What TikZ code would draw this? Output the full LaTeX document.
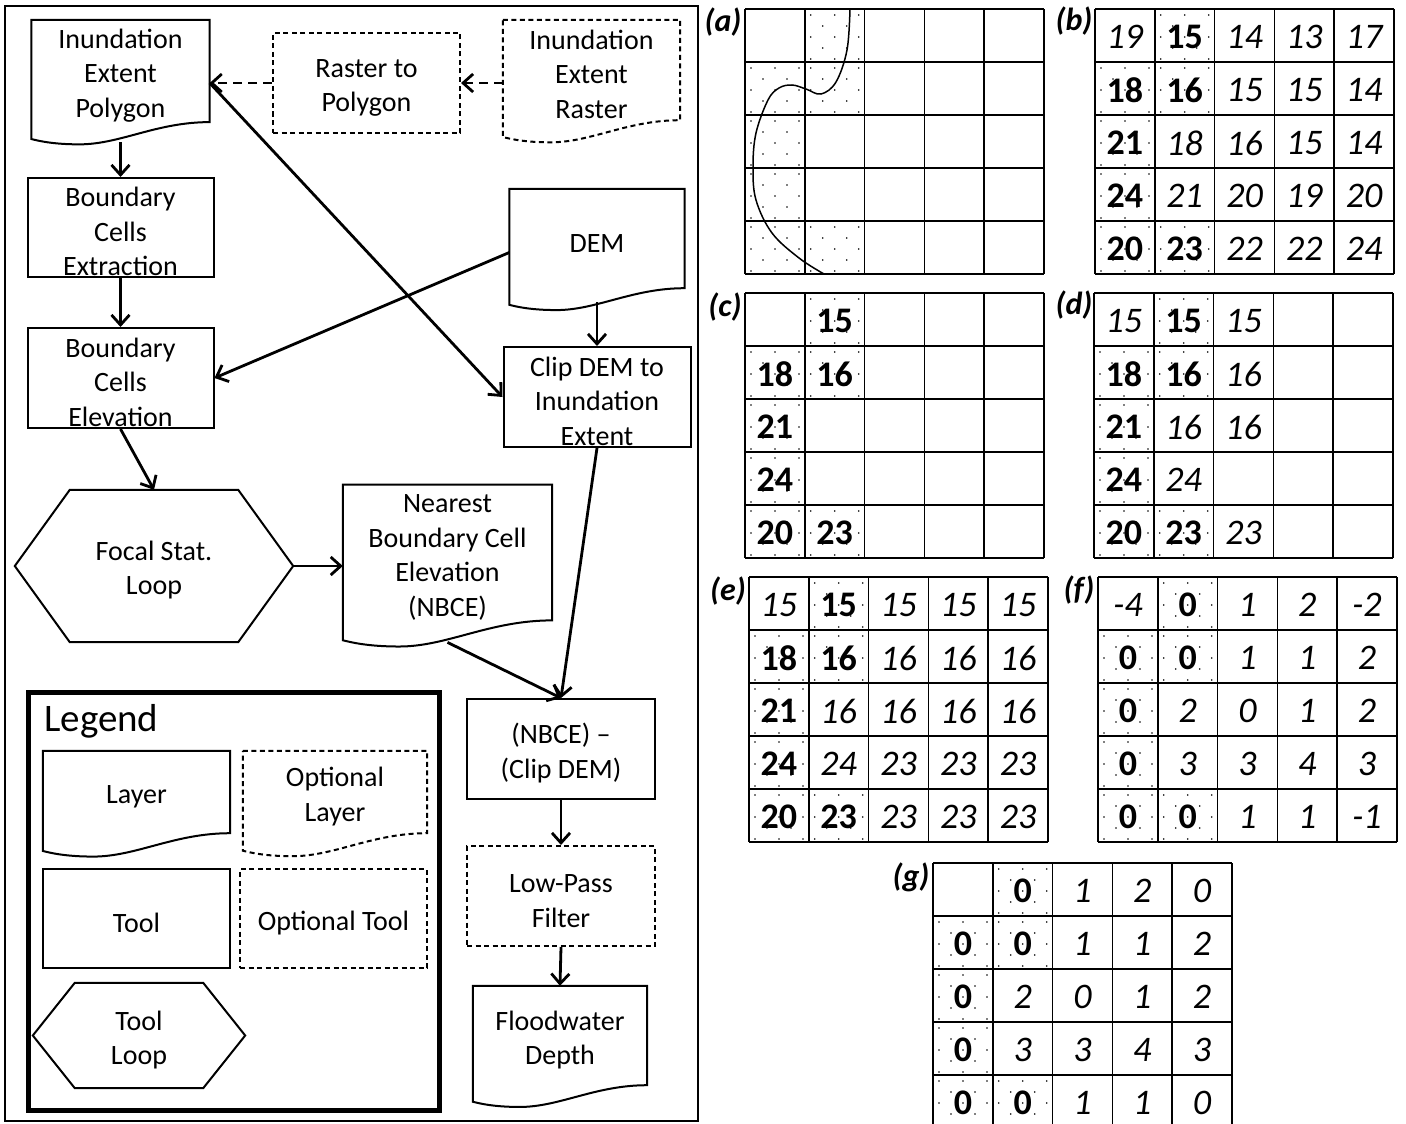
\documentclass[tikz,border=0pt]{standalone}
\usepackage{fontspec}
\setmainfont{Carlito}
\usetikzlibrary{arrows.meta,calc}
\newcommand{\B}[1]{{\bfseries\upshape #1}}
\newcommand{\I}[1]{{\itshape #1}}
\newcommand{\E}{}
\newcommand{\fs}{\rule{0pt}{28pt}}
\tikzset{
  txt/.style={font=\fontsize{28}{34.5}\selectfont, align=center, inner sep=0pt},
  boxline/.style={line width=2pt, line join=miter},
  toolbox/.style={txt, draw, boxline},
  optdash/.style={dash pattern=on 5pt off 3.5pt},
  optbox/.style={toolbox, optdash},
  docnode/.style={txt},
  hexnode/.style={txt},
  conn/.style={line width=2.8pt, -{Straight Barb[length=10pt,width=18pt]}},
  dconn/.style={conn, dash pattern=on 9pt off 6pt},
  gridl/.style={line width=1.6pt},
  num/.style={font=\fontsize{36}{38}\selectfont, inner sep=0pt},
  lab/.style={font=\fontsize{32}{34}\selectfont\bfseries\itshape, inner sep=0pt},
}
% document (layer) outline: [opts]{node}{width}
\newcommand{\docwave}[3][]{%
  \draw[boxline,#1] (#2.north west) -- (#2.north east) -- (#2.south east)
   .. controls ($(#2.south east)+(-0.3*#3,0)$) and ($(#2.south west)+(0.5*#3,0.125*#3)$) .. ($(#2.south west)+(0.27*#3,0.125*#3)$)
   .. controls ($(#2.south west)+(0.12*#3,0.125*#3)$) and ($(#2.south west)+(0.04*#3,0.105*#3)$) .. ($(#2.south west)+(0,0.095*#3)$) -- cycle;}
% hexagon outline: [opts]{node}{inset}
\newcommand{\hexout}[3][]{%
  \draw[boxline,#1] (#2.west) -- ($(#2.north west)+(#3,0)$) -- ($(#2.north east)+(-#3,0)$) -- (#2.east)
   -- ($(#2.south east)+(-#3,0)$) -- ($(#2.south west)+(#3,0)$) -- cycle;}
% grid: x0 y0 lastline vext
\newcommand{\gridlines}[4]{%
  \foreach \r in {0,...,#3} \draw[gridl] (#1,#2+\r*53) -- (#1+299,#2+\r*53);
  \foreach \c in {0,...,5} \draw[gridl] (#1+\c*59.8,#2) -- (#1+\c*59.8,#2+#4);
  \foreach \rr/\cc in {0/1,1/0,1/1,2/0,3/0,4/0,4/1}
    \foreach \dx/\dy in {6/6,30/6,54/6,18/17,42/17,6/28,30/28,54/28,18/39,42/39,6/50,30/50,54/50}
      \fill (#1+\cc*59.8+\dx,#2+\rr*53+\dy) circle (0.9pt);
}
\newcommand{\gridnums}[4]{%
  \foreach \v [count=\k from 0] in {#4} {
    \pgfmathtruncatemacro{\rr}{int(\k/5)}
    \pgfmathtruncatemacro{\cc}{mod(\k,5)}
    \node[num] (#3\k) at (#1+\cc*59.8+29.9,#2+\rr*53+28) {\v};
  }}
\begin{document}
\begin{tikzpicture}[x=1pt,y=-1pt]
\useasboundingbox (0,0) rectangle (1406,1124);
\fill[white] (0,0) rectangle (1406,1124);
% outer frame
\draw[line width=2.5pt] (5,6) rectangle (698,1121);

% ---------- flowchart ----------
\node[docnode, minimum width=178pt, minimum height=98pt] (iep) at (120.5,71) {\fs Inundation\\Extent\\Polygon};
\docwave{iep}{178}
\node[optbox, minimum width=187pt, minimum height=100pt] (rtp) at (366.5,83) {\fs Raster to\\Polygon};
\node[docnode, minimum width=177pt, minimum height=100pt] (ier) at (591.5,70) {\fs Inundation\\Extent\\Raster};
\docwave[optdash]{ier}{177}
\node[toolbox, minimum width=186pt, minimum height=99pt] (bce) at (120.5,227.5) {\fs Boundary\\Cells\\Extraction};
\node[toolbox, minimum width=186pt, minimum height=100pt] (bcel) at (120.5,378) {\fs Boundary\\Cells\\Elevation};
\node[docnode, minimum width=175pt, minimum height=99pt] (dem) at (597,238.5) {\fs DEM};
\docwave{dem}{175}
\node[toolbox, minimum width=187pt, minimum height=100pt] (clip) at (597,397) {\fs Clip DEM to\\Inundation\\Extent};
\node[hexnode, minimum width=278pt, minimum height=152pt] (focal) at (154,566) {\fs Focal Stat.\\Loop};
\hexout{focal}{55}
\node[docnode, minimum width=209pt, minimum height=125pt] (nbce) at (447.5,552.5) {\fs Nearest\\Boundary Cell\\Elevation\\(NBCE)};
\docwave{nbce}{209}
\node[toolbox, minimum width=188pt, minimum height=100pt] (diff) at (561,749) {\fs (NBCE) --\\(Clip DEM)};
\node[optbox, minimum width=188pt, minimum height=100pt] (lpf) at (561,896) {\fs Low-Pass\\Filter};
\node[docnode, minimum width=174pt, minimum height=99pt] (flood) at (560,1035.5) {\fs Floodwater\\Depth};
\docwave{flood}{174}

% connectors
\draw[dconn] (rtp.west) -- (rtp.west -| iep.east);
\draw[dconn] (ier.west |- rtp.west) -- (rtp.east);
\draw[conn] ([yshift=-20pt]iep.south) -- (bce.north);
\draw[conn] (bce.south) -- (bcel.north);
\draw[conn] ([yshift=-12pt]iep.east) -- (clip.west);
\draw[conn] ([yshift=-14pt]dem.west) -- (bcel.east);
\draw[conn] ([yshift=-14pt]dem.south) -- (clip.north);
\draw[conn] (bcel.south) -- (focal.north);
\draw[conn] (focal.east) -- (focal.east -| nbce.west);
\draw[conn] ([yshift=-22pt]nbce.south) -- (diff.north);
\draw[conn] (clip.south) -- (diff.north);
\draw[conn] (diff.south) -- (lpf.north);
\draw[conn] (lpf.south) -- (flood.north);

% ---------- legend ----------
\draw[line width=5pt] (28,692) rectangle (439,1110);
\node[anchor=west, inner sep=0pt, font=\fontsize{39}{42}\selectfont] (legt) at (44,721) {Legend};
\node[docnode, minimum width=187pt, minimum height=82pt] (lgl) at (136.5,792) {\fs Layer};
\docwave{lgl}{187}
\node[docnode, minimum width=184pt, minimum height=82pt] (lgol) at (335,792) {\fs Optional\\Layer};
\docwave[optdash]{lgol}{184}
\node[toolbox, minimum width=187pt, minimum height=99pt] (lgt) at (136.5,918.5) {\fs Tool};
\node[optbox, minimum width=187pt, minimum height=99pt] (lgot) at (333.5,918.5) {\fs Optional Tool};
\node[hexnode, minimum width=212pt, minimum height=105pt] (lgtl) at (139,1035.5) {\fs Tool\\Loop};
\hexout{lgtl}{42}

% ---------- grids ----------
% (a)
\gridlines{745}{9}{5}{265}
\draw[line width=1.5pt] plot[smooth, tension=0.6] coordinates {(850,9) (847,50) (836,82) (821,94) (806,89) (792,85) (779,88) (768,100) (756,133) (753,167) (756,200) (772,233) (799,258) (824,274)};
\node[lab] (la) at (723,22) {(a)};
% (b)
\gridlines{1095}{9}{5}{265}
\gridnums{1095}{9}{b}{\I{19},\B{15},\I{14},\I{13},\I{17},\B{18},\B{16},\I{15},\I{15},\I{14},\B{21},\I{18},\I{16},\I{15},\I{14},\B{24},\I{21},\I{20},\I{19},\I{20},\B{20},\B{23},\I{22},\I{22},\I{24}}
\node[lab] (lb) at (1074,21) {(b)};
% (c)
\gridlines{745}{293}{5}{265}
\gridnums{745}{293}{c}{\E,\B{15},\E,\E,\E,\B{18},\B{16},\E,\E,\E,\B{21},\E,\E,\E,\E,\B{24},\E,\E,\E,\E,\B{20},\B{23},\E,\E,\E}
\node[lab] (lc) at (725,307) {(c)};
% (d)
\gridlines{1094}{293}{5}{265}
\gridnums{1094}{293}{d}{\I{15},\B{15},\I{15},\E,\E,\B{18},\B{16},\I{16},\E,\E,\B{21},\I{16},\I{16},\E,\E,\B{24},\I{24},\E,\E,\E,\B{20},\B{23},\I{23},\E,\E}
\node[lab] (ld) at (1074,305) {(d)};
% (e)
\gridlines{749}{577}{5}{265}
\gridnums{749}{577}{e}{\I{15},\B{15},\I{15},\I{15},\I{15},\B{18},\B{16},\I{16},\I{16},\I{16},\B{21},\I{16},\I{16},\I{16},\I{16},\B{24},\I{24},\I{23},\I{23},\I{23},\B{20},\B{23},\I{23},\I{23},\I{23}}
\node[lab] (le) at (728,591) {(e)};
% (f)
\gridlines{1098}{577}{5}{265}
\gridnums{1098}{577}{f}{\I{-4},\B{0},\I{1},\I{2},\I{-2},\B{0},\B{0},\I{1},\I{1},\I{2},\B{0},\I{2},\I{0},\I{1},\I{2},\B{0},\I{3},\I{3},\I{4},\I{3},\B{0},\B{0},\I{1},\I{1},\I{-1}}
\node[lab] (lf) at (1079,590) {(f)};
% (g)
\gridlines{933}{863}{4}{261}
\gridnums{933}{863}{g}{\E,\B{0},\I{1},\I{2},\I{0},\B{0},\B{0},\I{1},\I{1},\I{2},\B{0},\I{2},\I{0},\I{1},\I{2},\B{0},\I{3},\I{3},\I{4},\I{3},\B{0},\B{0},\I{1},\I{1},\I{0}}
\node[lab] (lg) at (911,877) {(g)};
\end{tikzpicture}
\end{document}
